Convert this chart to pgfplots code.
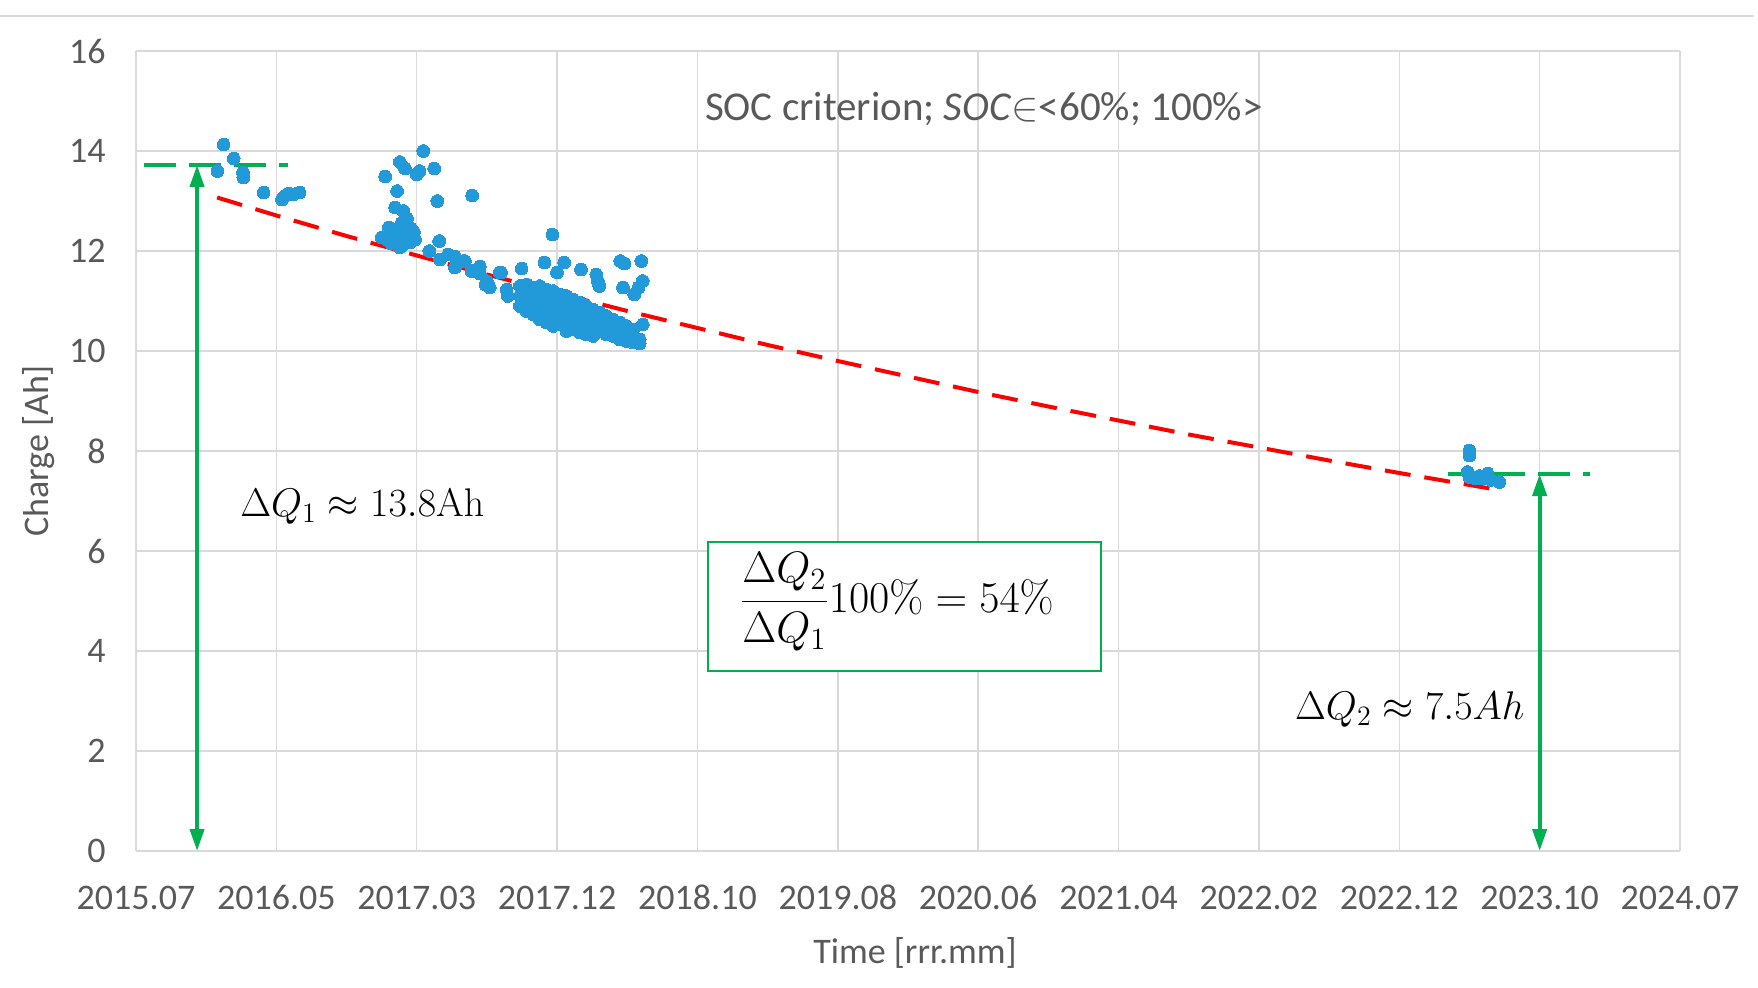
\RequirePackage{fix-cm}
\documentclass[border=0pt]{standalone}
\usepackage[no-math]{fontspec}
\setmainfont{Carlito}
\usepackage{pgfplots}
\pgfplotsset{compat=1.18}
\usetikzlibrary{arrows.meta}
\definecolor{txtgray}{HTML}{595959}
\definecolor{gridgray}{HTML}{D9D9D9}
\definecolor{ptblue}{HTML}{2299D8}
\definecolor{trendred}{HTML}{FF0000}
\definecolor{mygreen}{HTML}{00B050}
\begin{document}
\begin{tikzpicture}
\path[use as bounding box] (0,0) rectangle (879pt,493.5pt);
\draw[gridgray, line width=1pt] (0pt,485.5pt) -- (877pt,485.5pt);
\begin{axis}[
  at={(68pt,68pt)}, anchor=south west,
  scale only axis, width=772pt, height=400pt,
  xmin=0, xmax=11, ymin=0, ymax=16,
  xtick={0,...,11},
  xticklabels={2015.07,2016.05,2017.03,2017.12,2018.10,2019.08,2020.06,2021.04,2022.02,2022.12,2023.10,2024.07},
  ytick={0,2,...,16},
  grid=major,
  major grid style={draw=gridgray, line width=0.7pt},
  axis line style={draw=none},
  major tick length=0pt,
  tick label style={font=\fontsize{18}{21.6}\selectfont, text=txtgray, inner sep=0pt},
  xticklabel style={anchor=center, yshift=-23.25pt},
  yticklabel style={anchor=east, xshift=-15pt},
  /pgf/number format/assume math mode=true,
  xlabel={Time [rrr.mm]}, ylabel={Charge [Ah]},
  label style={font=\fontsize{18}{21.6}\selectfont, text=txtgray},
  xlabel style={at={(axis description cs:0.5045,-0.127)}, anchor=center},
  ylabel style={at={(axis description cs:-0.0628,0.5)}, anchor=center},
  clip=false,
]
% measured points
\addplot[only marks, mark=*, mark size=3.2pt, mark options={fill=ptblue, draw=ptblue, line width=0pt}] table {
x y
0.624 14.13
0.696 13.85
0.580 13.60
0.762 13.57
0.765 13.47
0.909 13.17
1.040 13.03
1.060 13.10
1.090 13.15
1.120 13.13
1.165 13.17
2.047 14.00
1.880 13.78
1.917 13.65
1.775 13.49
2.125 13.65
2.020 13.60
2.000 13.53
1.860 13.20
2.147 13.00
2.395 13.11
1.846 12.87
1.905 12.80
1.905 12.57
1.800 12.47
1.930 12.43
1.750 12.27
1.834 12.30
1.952 12.33
1.988 12.23
1.880 12.07
1.952 12.17
1.787 12.23
1.870 12.20
2.160 12.20
2.090 12.00
2.166 11.83
2.225 11.93
2.272 11.89
2.343 11.80
2.272 11.67
2.450 11.69
2.600 11.57
2.747 11.65
2.390 11.60
2.450 11.55
1.850 12.38
1.900 12.12
1.960 12.45
1.820 12.15
1.920 12.25
1.980 12.38
1.890 12.55
1.930 12.65
2.967 12.33
2.330 11.80
2.490 11.33
2.520 11.27
2.500 11.40
2.590 11.57
2.640 11.23
2.650 11.10
2.910 11.77
3.050 11.77
3.000 11.57
3.170 11.63
3.450 11.80
3.600 11.80
3.480 11.75
3.280 11.53
3.290 11.40
3.300 11.30
3.470 11.27
3.610 11.40
3.580 11.27
3.550 11.13
3.610 10.53
2.735 11.30
2.735 11.10
2.735 10.90
2.782 11.33
2.782 11.17
2.782 10.97
2.782 10.80
2.830 11.27
2.830 11.07
2.830 10.87
2.830 10.73
2.877 11.30
2.877 11.13
2.877 10.93
2.877 10.73
2.877 10.63
2.924 11.23
2.924 11.03
2.924 10.83
2.924 10.63
2.924 10.57
2.972 11.20
2.972 11.00
2.972 10.80
2.972 10.60
2.972 10.50
3.019 11.13
3.019 10.93
3.019 10.73
3.019 10.53
3.067 11.10
3.067 10.90
3.067 10.70
3.067 10.50
3.067 10.40
3.114 11.03
3.114 10.83
3.114 10.63
3.114 10.43
3.162 10.97
3.162 10.77
3.162 10.57
3.162 10.37
3.209 10.90
3.209 10.70
3.209 10.50
3.209 10.33
3.256 10.83
3.256 10.63
3.256 10.43
3.256 10.30
3.304 10.77
3.304 10.57
3.304 10.40
3.351 10.70
3.351 10.50
3.351 10.33
3.399 10.63
3.399 10.43
3.399 10.30
3.446 10.57
3.446 10.37
3.446 10.23
3.493 10.50
3.493 10.30
3.493 10.20
3.541 10.43
3.541 10.23
3.541 10.17
3.588 10.23
3.588 10.15
9.500 8.01
9.500 7.91
9.487 7.58
9.500 7.48
9.546 7.45
9.629 7.55
9.653 7.42
9.712 7.38
9.600 7.45
9.570 7.50
};
% trend line
\addplot[trendred, line width=2pt, dash pattern=on 13pt off 7pt, no marks] coordinates {
(0.578,13.07) (1,12.71) (1.5,12.30) (2,11.91) (2.5,11.53) (3,11.16) (3.5,10.80)
(4,10.46) (4.5,10.12) (5,9.80) (5.5,9.49) (6,9.18) (6.5,8.89) (7,8.61)
(7.5,8.33) (8,8.07) (8.5,7.81) (9,7.56) (9.5,7.32) (9.67,7.24)
};
% green reference levels
\addplot[mygreen, line width=1.8pt, dash pattern=on 16pt off 6.5pt, no marks] coordinates {(0.057,13.72) (1.083,13.72)};
\addplot[mygreen, line width=1.8pt, dash pattern=on 16pt off 6.5pt, no marks] coordinates {(9.347,7.54) (10.356,7.54)};
\addplot[mygreen, line width=2pt, no marks, {Triangle[length=11pt,width=7pt]}-{Triangle[length=11pt,width=7pt]}] coordinates {(0.435,0) (0.435,13.72)};
\addplot[mygreen, line width=2pt, no marks, {Triangle[length=11pt,width=7pt]}-{Triangle[length=11pt,width=7pt]}] coordinates {(10,0) (10,7.54)};
% annotations
\node[anchor=center, text=txtgray, font=\fontsize{20.5}{24}\selectfont] at (axis cs:6.04,14.84) {SOC criterion; \textit{SOC}$\in$<60\%; 100\%>};
\node[anchor=base west, inner sep=0pt, font=\fontsize{20}{24}\selectfont] at (axis cs:0.74,6.69) {$\Delta Q_1 \approx 13.8\mathrm{Ah}$};
\node[anchor=base west, inner sep=0pt, font=\fontsize{20}{24}\selectfont] at (axis cs:8.255,2.64) {$\Delta Q_2 \approx 7.5Ah$};
\draw[mygreen, line width=1pt, fill=white] (axis cs:4.077,3.6) rectangle (axis cs:6.873,6.174);
\node[anchor=west, inner sep=0pt, font=\fontsize{22}{26}\selectfont] at (axis cs:4.30,4.98) {$\displaystyle\frac{\Delta Q_2}{\Delta Q_1}100\% = 54\%$};
\end{axis}
\end{tikzpicture}
\end{document}
